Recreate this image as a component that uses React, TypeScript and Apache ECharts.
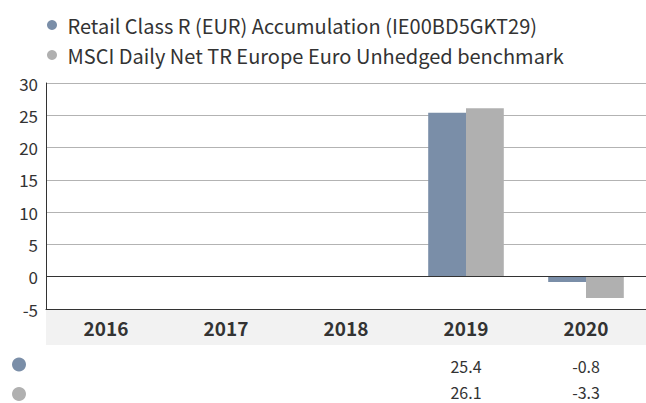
import React, { useEffect, useRef } from "react";
import * as echarts from "echarts";

const categories = ["2016", "2017", "2018", "2019", "2020"];
const fundName = "Retail Class R (EUR) Accumulation (IE00BD5GKT29)";
const benchName = "MSCI Daily Net TR Europe Euro Unhedged benchmark";
const fundValues: (number | null)[] = [null, null, null, 25.4, -0.8];
const benchValues: (number | null)[] = [null, null, null, 26.1, -3.3];
const yMin = -5;
const yMax = 30;
const yStep = 5;

const FUND_COLOR = "#7a8ea8";
const BENCH_COLOR = "#b0b0b0";
const FONT = "Noto Sans CJK JP";

const fmt = (v: number | null) => (v === null ? "" : v.toFixed(1));

export default function App() {
  const ref = useRef<HTMLDivElement>(null);
  useEffect(() => {
    document.body.style.margin = "0";
    if (!ref.current) return;
    const chart = echarts.init(ref.current, undefined, { renderer: "svg" });
    const tableAxis = (vals: (number | null)[], margin: number) => ({
      type: "category",
      data: vals.map(fmt),
      position: "bottom",
      gridIndex: 0,
      axisLine: { show: false },
      axisTick: { show: false },
      splitLine: { show: false },
      axisLabel: {
        interval: 0,
        margin,
        verticalAlign: "middle",
        fontSize: 16,
        lineHeight: 16,
        color: "#333",
        fontFamily: FONT,
      },
    });
    chart.setOption({
      animation: false,
      textStyle: { fontFamily: FONT },
      legend: {
        orient: "vertical",
        left: 42,
        top: 10,
        icon: "circle",
        itemWidth: 21,
        itemHeight: 10,
        itemGap: 10,
        textStyle: { fontSize: 20, lineHeight: 20, color: "#333", fontFamily: FONT },
        data: [fundName, benchName],
      },
      grid: { left: 46, right: -4, top: 83, bottom: 94, containLabel: false },
      xAxis: [
        {
          type: "category",
          data: categories,
          axisLine: { show: true, onZero: false, lineStyle: { color: "#333", width: 1 } },
          axisTick: { show: false },
          axisLabel: {
            interval: 0,
            margin: 18,
            verticalAlign: "middle",
            fontSize: 19,
            fontWeight: "bold",
            color: "#333",
            fontFamily: FONT,
          },
        },
        tableAxis(fundValues, 57),
        tableAxis(benchValues, 83),
      ],
      yAxis: {
        type: "value",
        min: yMin,
        max: yMax,
        interval: yStep,
        axisLine: { show: true, lineStyle: { color: "#333", width: 1 } },
        axisTick: { show: false },
        splitLine: { show: true, lineStyle: { color: "#b3b3b3", width: 1 } },
        axisLabel: { margin: 8, fontSize: 17, color: "#333", fontFamily: FONT },
      },
      graphic: [
        {
          type: "rect",
          z: -1,
          shape: { x: 46, y: 310, width: 600, height: 35 },
          style: { fill: "#f2f2f2" },
          silent: true,
        },
        {
          type: "circle",
          shape: { cx: 19, cy: 364.5, r: 7 },
          style: { fill: FUND_COLOR },
          silent: true,
        },
        {
          type: "circle",
          shape: { cx: 19, cy: 394, r: 7 },
          style: { fill: BENCH_COLOR },
          silent: true,
        },
      ],
      series: [
        {
          name: fundName,
          type: "bar",
          data: fundValues,
          xAxisIndex: 0,
          barGap: "0%",
          barCategoryGap: "37%",
          itemStyle: { color: FUND_COLOR },
          markLine: {
            silent: true,
            symbol: "none",
            label: { show: false },
            lineStyle: { color: "#333", width: 1, type: "solid" },
            data: [{ yAxis: 0 }],
          },
        },
        {
          name: benchName,
          type: "bar",
          data: benchValues,
          xAxisIndex: 0,
          barGap: "0%",
          barCategoryGap: "37%",
          itemStyle: { color: BENCH_COLOR },
        },
      ],
    });
    return () => chart.dispose();
  }, []);
  return <div ref={ref} style={{ width: 646, height: 403, overflow: "hidden" }} />;
}
